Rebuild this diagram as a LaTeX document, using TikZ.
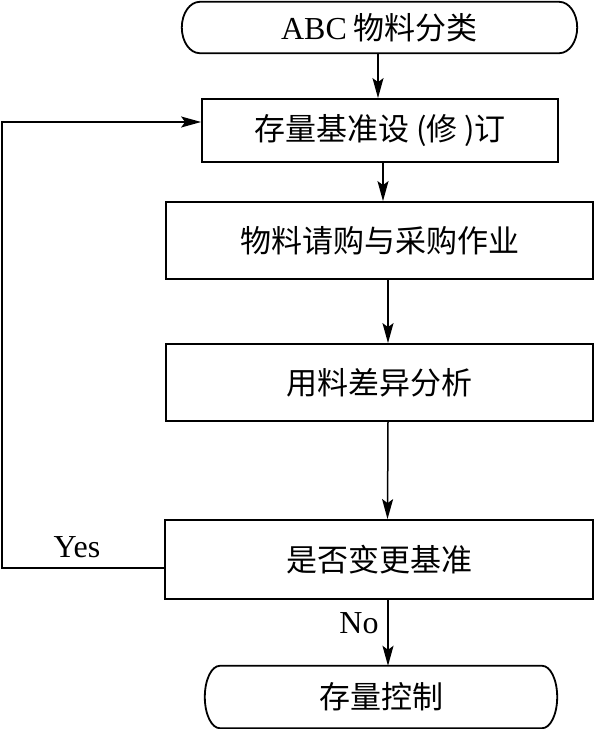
\documentclass[tikz,border=0pt]{standalone}
\usepackage{fontspec}
\setmainfont{Liberation Serif}
\newfontfamily\cjk{Noto Sans CJK SC}
\usetikzlibrary{arrows.meta,calc}
\tikzset{
  box/.style={draw, line width=1.8pt, inner sep=0pt, font=\cjk\fontsize{31}{36}\selectfont},
  term/.style={inner sep=0pt, font=\cjk\fontsize{31}{36}\selectfont},
  arr/.style={line width=1.5pt, -{Stealth[length=20pt,width=11pt,inset=4pt]}},
  lbl/.style={font=\fontsize{32}{36}\selectfont},
}
\newcommand{\termedge}[2]{%
  \draw[line width=1.8pt] let \p1=(#1.north west), \p2=(#1.south east), \n1={0.5*(\y1-\y2)} in
    (\x1+#2,\y1) -- (\x2-#2,\y1) arc[start angle=90,end angle=-90,x radius=#2,y radius=\n1]
    -- (\x1+#2,\y2) arc[start angle=270,end angle=90,x radius=#2,y radius=\n1] -- cycle;
}

\begin{document}
\begin{tikzpicture}[x=1pt,y=-1pt]
  \useasboundingbox (0,0) rectangle (595,729);
  \node[term, minimum width=395pt, minimum height=51pt] (start) at (379.5,27.5) {{\rmfamily\fontsize{32}{36}\selectfont ABC} 物料分类};
  \termedge{start}{18pt}
  \node[box, minimum width=356pt, minimum height=63pt] (setstd) at (380,130.5) {存量基准设 (修 )订};
  \node[box, minimum width=427pt, minimum height=77pt] (buy) at (379.5,240.5) {物料请购与采购作业};
  \node[box, minimum width=427pt, minimum height=77pt] (diff) at (379.5,382.5) {用料差异分析};
  \node[box, minimum width=428pt, minimum height=79pt] (ask) at (379,559.5) {是否变更基准};
  \node[term, minimum width=352pt, minimum height=62pt] (stop) at (381,697) {存量控制};
  \termedge{stop}{15pt}

  \draw[arr] ([xshift=-1.5pt]start.south) -- ([xshift=-1.5pt]start.south |- setstd.north);
  \draw[arr] ([xshift=3pt]setstd.south) -- ([xshift=3pt]setstd.south |- buy.north);
  \draw[arr] ([xshift=8.5pt]buy.south) -- ([xshift=8.5pt]diff.north);
  \draw[arr] ([xshift=8.5pt]diff.south) -- ([xshift=8.5pt]ask.north);
  \draw[arr] ([xshift=9pt]ask.south) -- ([xshift=9pt]ask.south |- stop.north);
  \draw[arr] ([yshift=-8.5pt]ask.west) -- ++(-162,0) |- ([yshift=8.5pt]setstd.west);

  \node[lbl] (yes) at (77,547) {Yes};
  \node[lbl] (no) at (359,623) {No};
\end{tikzpicture}
\end{document}
